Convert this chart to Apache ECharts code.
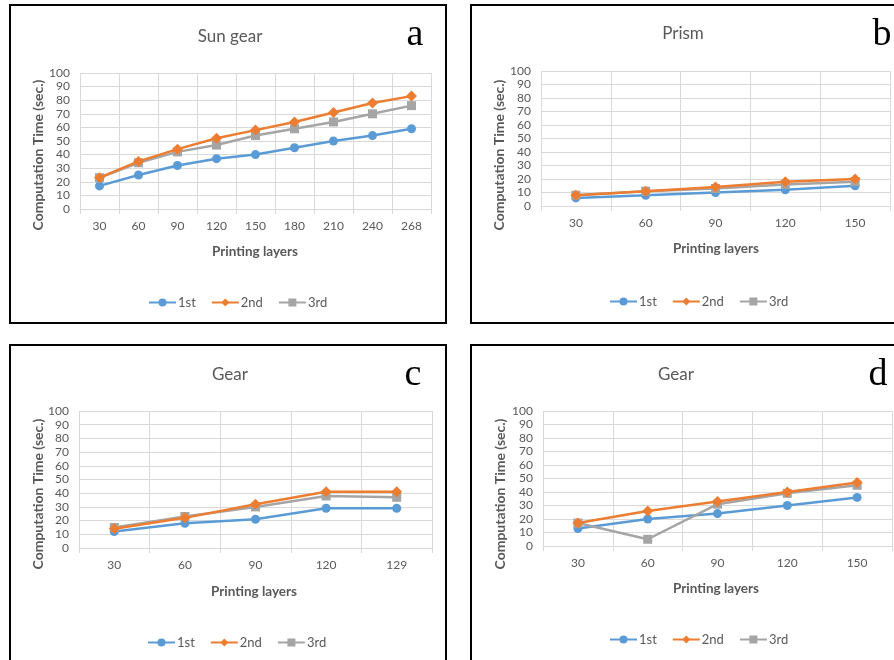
<!DOCTYPE html>
<html>
<head>
<meta charset="utf-8">
<script src="https://cdn.jsdelivr.net/npm/echarts@6/dist/echarts.min.js"></script>
<style>
  html, body { margin: 0; padding: 0; background: #fff; }
  #chart { width: 894px; height: 660px; }
</style>
</head>
<body>
<div id="chart"></div>
<script>
// Computation time per printing-layer count, three runs per part
const seriesNames = ['1st', '2nd', '3rd'];
const yTicks = [0, 100, 10]; // min, max, step

// (a) Sun gear
const sunGearLayers = ['30', '60', '90', '120', '150', '180', '210', '240', '268'];
const sunGear1st = [17, 25, 32, 37, 40, 45, 50, 54, 59];
const sunGear2nd = [23, 35, 44, 52, 58, 64, 71, 78, 83];
const sunGear3rd = [23, 34, 42, 47, 54, 59, 64, 70, 76];

// (b) Prism
const prismLayers = ['30', '60', '90', '120', '150'];
const prism1st = [6, 8, 10, 12, 15];
const prism2nd = [8, 11, 14, 18, 20];
const prism3rd = [8, 11, 13, 16, 18];

// (c) Gear
const gearCLayers = ['30', '60', '90', '120', '129'];
const gearC1st = [12, 18, 21, 29, 29];
const gearC2nd = [14, 22, 32, 41, 41];
const gearC3rd = [15, 23, 30, 38, 37];

// (d) Gear
const gearDLayers = ['30', '60', '90', '120', '150'];
const gearD1st = [13, 20, 24, 30, 36];
const gearD2nd = [17, 26, 33, 40, 47];
const gearD3rd = [17, 5, 31, 39, 45];

const COLORS = ['#5b9bd5', '#ed7d31', '#a5a5a5'];
const SYMBOLS = ['circle', 'diamond', 'rect'];
const SYMBOL_SIZES = [9, 11, 9];
const TEXT = '#595959';
const GRID_LINE = '#d9d9d9';
const FONT = "Lato, 'Open Sans', sans-serif";

const panels = [
  { title: 'Sun gear', letter: 'a', cats: sunGearLayers, data: [sunGear1st, sunGear2nd, sunGear3rd],
    box: [10, 5, 436, 318], grid: { left: 80, top: 73, width: 351, height: 136 },
    titlePos: [230, 37], letterPos: [415, 35], yNamePos: [38, 155], xNamePos: [255, 252], legendTop: 291, legendCenter: 229 },
  { title: 'Prism', letter: 'b', cats: prismLayers, data: [prism1st, prism2nd, prism3rd],
    box: [471, 5, 440, 318], grid: { left: 541, top: 71, width: 349, height: 135 },
    titlePos: [683, 34], letterPos: [882, 35], yNamePos: [499, 155], xNamePos: [716, 249], legendTop: 290, legendCenter: 690 },
  { title: 'Gear', letter: 'c', cats: gearCLayers, data: [gearC1st, gearC2nd, gearC3rd],
    box: [10, 345, 436, 330], grid: { left: 79, top: 411, width: 353, height: 137 },
    titlePos: [230, 375], letterPos: [413, 375], yNamePos: [38, 494], xNamePos: [254, 592], legendTop: 631, legendCenter: 228 },
  { title: 'Gear', letter: 'd', cats: gearDLayers, data: [gearD1st, gearD2nd, gearD3rd],
    box: [471, 345, 440, 330], grid: { left: 543, top: 411, width: 349, height: 135 },
    titlePos: [676, 375], letterPos: [878, 375], yNamePos: [500, 494], xNamePos: [716, 589], legendTop: 628, legendCenter: 690 }
];

const LEGEND_HALF_WIDTH = 86;
const grid = [], xAxis = [], yAxis = [], series = [], legend = [], graphic = [];

panels.forEach((p, i) => {
  grid.push(Object.assign({ containLabel: false }, p.grid));

  xAxis.push({
    type: 'category', gridIndex: i, data: p.cats, boundaryGap: true,
    axisLine: { show: true, lineStyle: { color: GRID_LINE, width: 1 } },
    axisTick: { show: true, length: 5, lineStyle: { color: GRID_LINE } },
    splitLine: { show: true, lineStyle: { color: GRID_LINE, width: 1 } },
    axisLabel: { color: TEXT, fontSize: 12, fontFamily: FONT, margin: 11 }
  });

  yAxis.push({
    type: 'value', gridIndex: i, min: yTicks[0], max: yTicks[1], interval: yTicks[2],
    axisLine: { show: false }, axisTick: { show: false },
    splitLine: { show: true, lineStyle: { color: GRID_LINE, width: 1 } },
    axisLabel: { color: TEXT, fontSize: 12, fontFamily: FONT, margin: 10 }
  });

  seriesNames.forEach((name, k) => {
    series.push({
      name: name, type: 'line', xAxisIndex: i, yAxisIndex: i,
      data: p.data[k], symbol: SYMBOLS[k], symbolSize: SYMBOL_SIZES[k],
      lineStyle: { color: COLORS[k], width: 2.5 },
      itemStyle: { color: COLORS[k] },
      z: 2 + (k === 2 ? 0 : k)
    });
  });

  legend.push({
    data: seriesNames, orient: 'horizontal',
    left: p.legendCenter - LEGEND_HALF_WIDTH, top: p.legendTop,
    itemGap: 15, itemWidth: 27, itemHeight: 10,
    textStyle: { color: TEXT, fontSize: 13, fontFamily: FONT, padding: [0, 0, 0, -3] },
    selectedMode: false
  });

  // Panel frame
  graphic.push({
    type: 'rect', shape: { x: p.box[0], y: p.box[1], width: p.box[2], height: p.box[3] },
    style: { fill: null, stroke: '#000', lineWidth: 2 }, silent: true, z: 10
  });
  // Panel title
  graphic.push({
    type: 'text', x: p.titlePos[0], y: p.titlePos[1],
    style: { text: p.title, fill: TEXT, font: '17px ' + FONT, align: 'center', verticalAlign: 'middle' }
  });
  // Panel letter
  graphic.push({
    type: 'text', x: p.letterPos[0], y: p.letterPos[1],
    style: { text: p.letter, fill: '#000', font: '38px "Liberation Serif", "DejaVu Serif", serif', align: 'center', verticalAlign: 'middle' }
  });
  // Axis titles
  graphic.push({
    type: 'text', x: p.yNamePos[0], y: p.yNamePos[1], rotation: Math.PI / 2,
    style: { text: 'Computation Time (sec.)', fill: TEXT, font: 'bold 14px ' + FONT, align: 'center', verticalAlign: 'middle' }
  });
  graphic.push({
    type: 'text', x: p.xNamePos[0], y: p.xNamePos[1],
    style: { text: 'Printing layers', fill: TEXT, font: 'bold 13.5px ' + FONT, align: 'center', verticalAlign: 'middle' }
  });
});

const chart = echarts.init(document.getElementById('chart'), null, { renderer: 'canvas' });
chart.setOption({
  animation: false,
  backgroundColor: '#fff',
  grid, xAxis, yAxis, series, legend, graphic
});
</script>
</body>
</html>
